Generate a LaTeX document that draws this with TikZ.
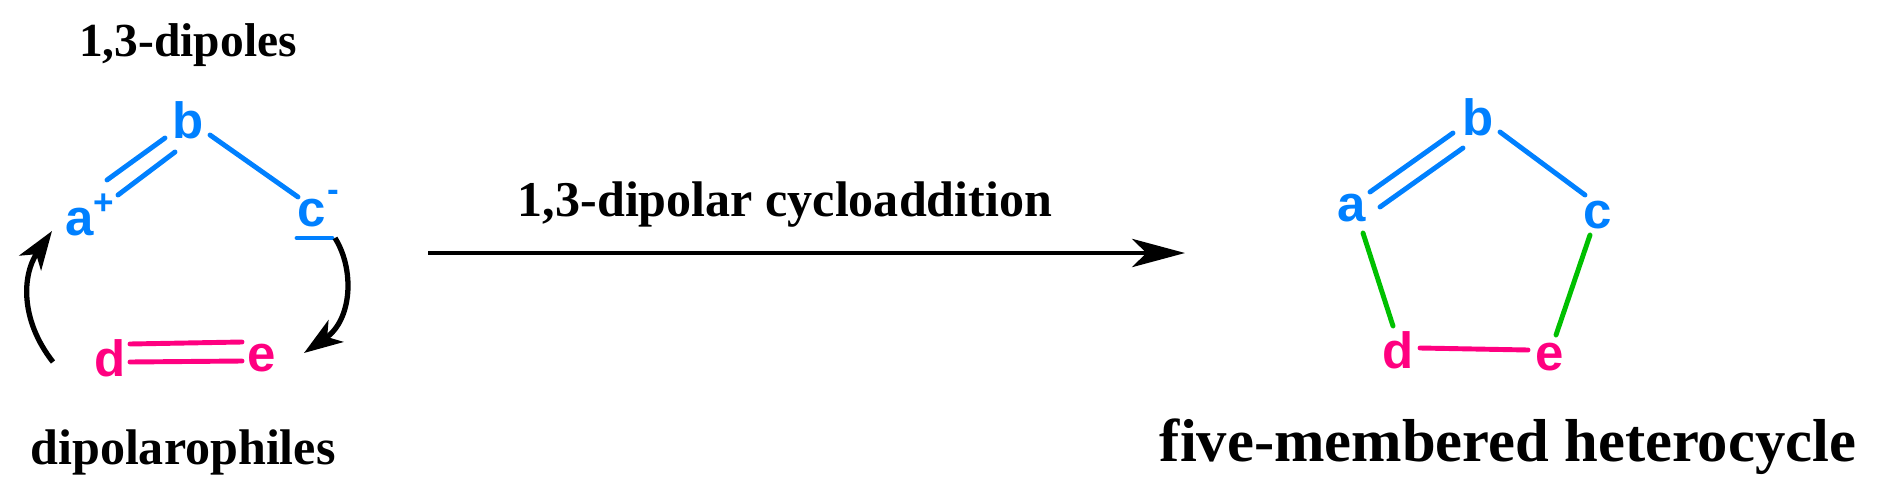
\documentclass[tikz,border=0pt]{standalone}
\usepackage{fontspec}
\setmainfont{Liberation Serif}
\setsansfont{Liberation Sans}
\usetikzlibrary{arrows.meta}
\definecolor{cblue}{RGB}{0,128,255}
\definecolor{cpink}{RGB}{255,0,128}
\definecolor{cgreen}{RGB}{0,192,0}
\tikzset{
  atom/.style={font=\sffamily\bfseries\fontsize{29}{30}\selectfont, inner sep=0pt},
  chg/.style={font=\sffamily\bfseries\fontsize{20}{20}\selectfont, inner sep=0pt},
  bond/.style={line width=2.8pt, line cap=round},
  lbl/.style={inner sep=0pt},
  curly/.style={line width=3pt, -{Stealth[length=22pt,width=15pt,inset=6pt]}},
}
\begin{document}
\begin{tikzpicture}[x=0.02cm,y=-0.02cm]
\useasboundingbox (0,0) rectangle (1881,494);
% left
\node[lbl,font=\bfseries\fontsize{27}{28}\selectfont] (t1) at (188,45) {1,3-dipoles};
\node[lbl,font=\bfseries\fontsize{28.5}{29}\selectfont] (t2) at (183,452) {dipolarophiles};
\node[atom,cblue] (b1) at (188,120) {b};
\node[atom,cblue] (a1) at (80,222) {a};
\node[chg,cblue] (ap) at (104,204) {+};
\node[atom,cblue] (c1) at (312,213) {c};
\node[chg,cblue] (cm) at (333,196) {-};
\node[atom,cpink] (d1) at (110,358) {d};
\node[atom,cpink] (e1) at (262,358) {e};
\coordinate (u1) at (297,238);
\coordinate (u2) at (332,238);
\draw[bond,cblue] (u1) -- (u2);
\draw[bond,cblue] (107,180) -- (165,138);
\draw[bond,cblue] (118,195) -- (175,152);
\draw[bond,cblue] (210,135) -- (298,197);
\draw[bond,cpink] (130,344) -- (242,342);
\draw[bond,cpink] (130,362) -- (242,361);
\coordinate (la) at (53,362);
\coordinate (lb) at (52,231);
\draw[curly] (la) .. controls (20,320) and (22,275) .. (lb);
\coordinate (ra) at (335,238);
\coordinate (rb) at (304,353);
\draw[curly] (ra) .. controls (355,270) and (352,320) .. (rb);
% arrow
\node[lbl,font=\bfseries\fontsize{28.5}{29}\selectfont] (t3) at (785,205) {1,3-dipolar cycloaddition};
\coordinate (m1) at (428,253);
\coordinate (m2) at (1185,253);
\draw[line width=2.8pt,-{Stealth[length=30pt,width=16pt,inset=8pt]}] (m1) -- (m2);
% right
\node[atom,cblue] (b2) at (1478,117) {b};
\node[atom,cblue] (a2) at (1352,208) {a};
\node[atom,cblue] (c2) at (1598,215) {c};
\node[atom,cpink] (d2) at (1398,350) {d};
\node[atom,cpink] (e2) at (1550,357) {e};
\draw[bond,cblue] (1370,192) -- (1453,133);
\draw[bond,cblue] (1380,207) -- (1463,148);
\draw[bond,cblue] (1500,132) -- (1585,195);
\draw[bond,cgreen] (1363,233) -- (1393,326);
\draw[bond,cgreen] (1590,235) -- (1556,335);
\draw[bond,cpink] (1420,348) -- (1528,350);
\node[lbl,font=\bfseries\fontsize{34.5}{36}\selectfont] (t4) at (1508,447) {five-membered heterocycle};
\end{tikzpicture}
\end{document}
